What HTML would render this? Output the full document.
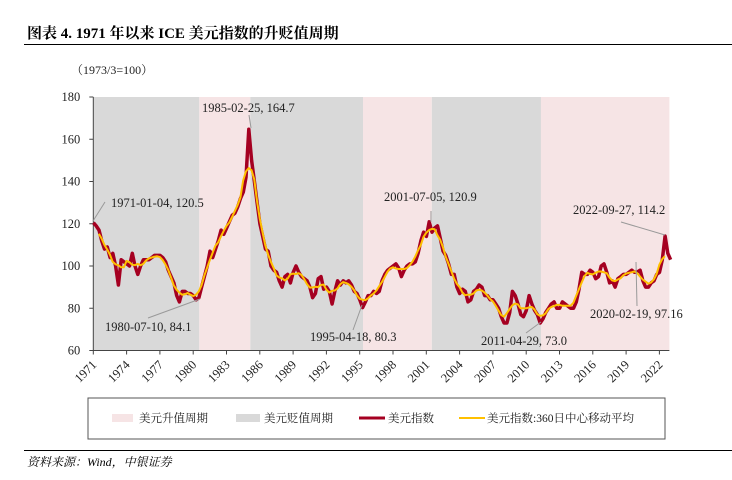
<!DOCTYPE html>
<html><head><meta charset="utf-8">
<style>
body{margin:0;background:#fff;width:732px;height:475px;overflow:hidden;font-family:"Liberation Serif","Noto Serif CJK SC",serif;}
svg text{font-family:"Liberation Serif","Noto Serif CJK SC",serif;}
</style></head>
<body>
<svg id="chart" width="732" height="475" viewBox="0 0 732 475" xmlns="http://www.w3.org/2000/svg">
<text x="27" y="38" font-size="15" font-weight="bold" fill="#000">图表 4. 1971 年以来 ICE 美元指数的升贬值周期</text>
<line x1="24" y1="44.5" x2="732" y2="44.5" stroke="#000" stroke-width="1"/>
<text x="71" y="74" font-size="12" fill="#222">（1973/3=100）</text>
<g id="bands"></g>
<g id="axes"></g>
<g id="series"></g>
<g id="annot" font-size="12.5" fill="#222"></g>
<rect x="88" y="398" width="577" height="41" fill="#fff" stroke="#555" stroke-width="1"/>
<rect x="112" y="414" width="21" height="8" fill="#f6e4e5"/>
<text x="139" y="422" font-size="11.5" fill="#222">美元升值周期</text>
<rect x="236" y="414" width="24" height="8" fill="#d9d9d9"/>
<text x="264" y="422" font-size="11.5" fill="#222">美元贬值周期</text>
<line x1="359" y1="418" x2="385" y2="418" stroke="#a50021" stroke-width="3"/>
<text x="388" y="422" font-size="11.5" fill="#222">美元指数</text>
<line x1="459" y1="418" x2="485" y2="418" stroke="#ffc000" stroke-width="2"/>
<text x="487" y="422" font-size="11.5" fill="#222">美元指数:360日中心移动平均</text>
<line x1="24" y1="450.5" x2="732" y2="450.5" stroke="#000" stroke-width="1"/>
<text x="27" y="466" font-size="12" font-style="italic" fill="#000">资料来源：Wind，中银证券</text>
</svg>
<script>
const yTicks=[60,80,100,120,140,160,180];
const xTickYears=[1971,1974,1977,1980,1983,1986,1989,1992,1995,1998,2001,2004,2007,2010,2013,2016,2019,2022];
const bandStarts=[1971,1980.55,1985.15,1995.3,2001.5,2011.33];
const bandEnds=[1980.55,1985.15,1995.3,2001.5,2011.33,2022.9];
const bandTypes=["down","up","down","up","down","up"];
const startYear=1971;
const indexValues=[
120.5,119,117,112, 108,109,104,106, 100,91,103,102, 101,100,106,100,
96,100,103,103, 103,104,105,105, 105,104,102,98, 95,92,86,83,
88,88,87,87, 86,84,85,90, 95,100,107,104, 108,112,117,115,
118,121,124,125, 128,132,135,142, 164.7,150,140,130, 120,114,108,107,
100,98,97,93, 90,95,96,92, 97,100,97,95, 94,93,90,85,
87,94,95,89, 90,88,82,88, 93,91,93,92, 93,91,88,87,
84,80.3,83,86, 86,88,87,88, 93,96,98,99, 100,101,99,95,
98,100,101,101, 102,106,112,116, 114,120.9,116,118, 119,113,107,105,
101,96,96,90, 87,89,88,83, 84,88,89,91, 90,86,86,84,
84,82,80,76, 73,73,78,88, 86,82,77,76, 79,86,82,79,
77,73,75,78, 80,82,83,80, 80,83,82,81, 80,80,83,89,
97,96,96,98, 97,94,95,100, 101,97,92,93, 90,94,95,96,
96,97,98,97, 97.16,98,93,90, 90,92,93,96, 97,103,114.2,106, 103
];
const maWindow=2;
const X0=93.3,PXY=11.1,Y0=350.5,PXV=253.5/120;
const xs=y=>X0+(y-startYear)*PXY;
const ys=v=>Y0-(v-60)*PXV;
const NS="http://www.w3.org/2000/svg";
function mk(tag,attrs,parent){const e=document.createElementNS(NS,tag);for(const k in attrs)e.setAttribute(k,attrs[k]);parent.appendChild(e);return e;}
const bands=document.getElementById('bands');
bandStarts.forEach((s,i)=>{
 const r=mk('rect',{x:xs(s),y:ys(180),width:xs(bandEnds[i])-xs(s),height:ys(60)-ys(180),fill:bandTypes[i]==="up"?"#f6e4e5":"#d9d9d9"},bands);
 
 
});
const axes=document.getElementById('axes');
const ya=mk('line',{x1:X0,y1:ys(180),x2:X0,y2:ys(60),stroke:"#444","stroke-width":1},axes);


const xa=mk('line',{x1:X0,y1:Y0,x2:xs(bandEnds[bandEnds.length-1]),y2:Y0,stroke:"#444","stroke-width":1},axes);


yTicks.forEach(v=>{
 mk('line',{x1:X0-4,y1:ys(v),x2:X0,y2:ys(v),stroke:"#444"},axes);
 const t=mk('text',{x:X0-13,y:ys(v)+4,"text-anchor":"end","font-size":12.5,fill:"#222"},axes);
 t.textContent=v;
 
 
});
xTickYears.forEach(yr=>{
 const x=xs(yr);
 mk('line',{x1:x,y1:Y0,x2:x,y2:Y0+4,stroke:"#444"},axes);
 const t=mk('text',{x:x+4,y:Y0+15,"text-anchor":"end","font-size":12.5,fill:"#222",transform:`rotate(-45 ${x+4} ${Y0+15})`},axes);
 t.textContent=yr;
 
 
});
const series=document.getElementById('series');
const ptsIdx=indexValues.map((v,i)=>xs(startYear+i*0.25+0.01).toFixed(1)+","+ys(v).toFixed(1)).join(" ");
const pl=mk('polyline',{points:ptsIdx,fill:"none",stroke:"#a50021","stroke-width":3.5,"stroke-linejoin":"round"},series);


const ma=[];
for(let i=maWindow;i<indexValues.length-maWindow;i++){
 let s=0;for(let j=-maWindow;j<=maWindow;j++)s+=indexValues[i+j];
 ma.push([startYear+i*0.25,s/(2*maWindow+1)]);
}
const pm=mk('polyline',{points:ma.map(p=>xs(p[0]).toFixed(1)+","+ys(p[1]).toFixed(1)).join(" "),fill:"none",stroke:"#ffc000","stroke-width":2,"stroke-linejoin":"round"},series);


const annotTexts=["1985-02-25, 164.7","1971-01-04, 120.5","1980-07-10, 84.1","1995-04-18, 80.3","2001-07-05, 120.9","2022-09-27, 114.2","2020-02-19, 97.16","2011-04-29, 73.0"];
const annot=document.getElementById('annot');
const layout=[[202,112,249,115,251,128],[111,207,105,202,93,221],[105,331,148,318,200,299],[310,341,353,330,362,305],[384,201,431,211,431,222],[573,214,621,222,665,235],[590,318,637,306,636,262],[481,345,526,333,541,322]];
annotTexts.forEach((s,i)=>{
 const L=layout[i];
 const ln=mk('line',{x1:L[2],y1:L[3],x2:L[4],y2:L[5],stroke:"#999","stroke-width":1},annot);
 
 
 const t=mk('text',{x:L[0],y:L[1]},annot);
 t.textContent=s;
 
 
});
</script>
</body></html>
